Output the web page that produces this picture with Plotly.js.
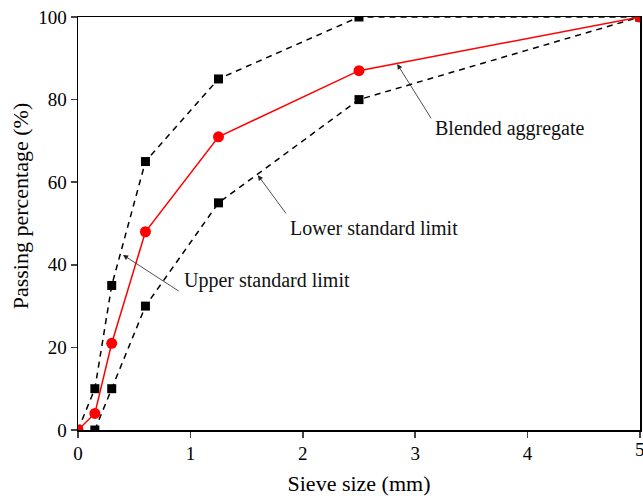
<!DOCTYPE html>
<html><head><meta charset="utf-8">
<script src="https://cdn.plot.ly/plotly-3.0.1.min.js"></script>
<style>html,body{margin:0;padding:0;background:#fff}#c{width:643px;height:504px}</style>
</head><body><div id="c"></div>
<script>
const upperX = [0, 0.15, 0.3, 0.6, 1.25, 2.5, 5];
const upperY = [0, 10, 35, 65, 85, 100, 100];
const lowerX = [0.15, 0.3, 0.6, 1.25, 2.5, 5];
const lowerY = [0, 10, 30, 55, 80, 100];
const blendX = [0, 0.15, 0.3, 0.6, 1.25, 2.5, 5];
const blendY = [0, 4, 21, 48, 71, 87, 100];
const xTicks = [0, 1, 2, 3, 4, 5];
const yTicks = [0, 20, 40, 60, 80, 100];

const font = 'Liberation Serif';
const traces = [
  {x: upperX, y: upperY, mode: 'lines+markers', line: {color: '#000', width: 1.5, dash: '6px,5px'},
   marker: {symbol: 'square', size: 9, color: '#000'}, name: 'Upper'},
  {x: lowerX, y: lowerY, mode: 'lines+markers', line: {color: '#000', width: 1.5, dash: '6px,5px'},
   marker: {symbol: 'square', size: 9, color: '#000'}, name: 'Lower'},
  {x: blendX, y: blendY, mode: 'lines+markers', line: {color: '#ff0000', width: 1.5},
   marker: {symbol: 'circle', size: 11, color: '#ff0000'}, name: 'Blended'}
];
function arrow(hx, hy, tx, ty) {
  return {x: hx, y: hy, ax: tx, ay: ty, axref: 'x', ayref: 'y', xref: 'x', yref: 'y',
    text: '', showarrow: true, arrowhead: 2, arrowsize: 1.3, arrowwidth: 0.8, arrowcolor: '#222'};
}
function label(t, x, y) {
  return {x: x, y: y, xref: 'x', yref: 'y', text: t, showarrow: false,
    font: {family: font, size: 20, color: '#111'}};
}
const layout = {
  width: 643, height: 504,
  margin: {l: 78, r: 3, t: 17, b: 74},
  paper_bgcolor: '#fff', plot_bgcolor: '#fff',
  showlegend: false,
  font: {family: font, color: '#000'},
  xaxis: {range: [0, 5], tickvals: xTicks, ticks: 'outside', ticklen: 6, tickwidth: 1.5,
    showline: true, linecolor: '#000', linewidth: 1.5, mirror: true, showgrid: false, zeroline: false,
    tickfont: {family: font, size: 19, color: '#000'},
    title: {text: 'Sieve size (mm)', font: {family: font, size: 22, color: '#000'}, standoff: 12}},
  yaxis: {range: [0, 100], tickvals: yTicks, ticks: 'outside', ticklen: 6, tickwidth: 1.5,
    showline: true, linecolor: '#000', linewidth: 1.5, mirror: true, showgrid: false, zeroline: false,
    tickfont: {family: font, size: 19, color: '#000'}},
  annotations: [
    {xref: 'paper', yref: 'paper', x: -0.103, y: 0.542, text: 'Passing percentage (%)', textangle: -90,
     showarrow: false, xanchor: 'center', yanchor: 'middle', font: {family: font, size: 22, color: '#000'}},
    {xref: 'x', yref: 'paper', x: xTicks[xTicks.length - 1], y: 0, yanchor: 'top', xanchor: 'center', yshift: -7,
     text: String(xTicks[xTicks.length - 1]), showarrow: false, font: {family: font, size: 19, color: '#000'}},
    arrow(2.84, 88.6, 3.15, 75.1), label('Blended aggregate', 3.84, 72.9),
    arrow(1.60, 61.7, 1.86, 52.1), label('Lower standard limit', 2.63, 48.9),
    arrow(0.40, 42.4, 0.91, 33.4), label('Upper standard limit', 1.68, 36.1)
  ]
};
Plotly.newPlot('c', traces, layout, {staticPlot: true});
</script></body></html>
